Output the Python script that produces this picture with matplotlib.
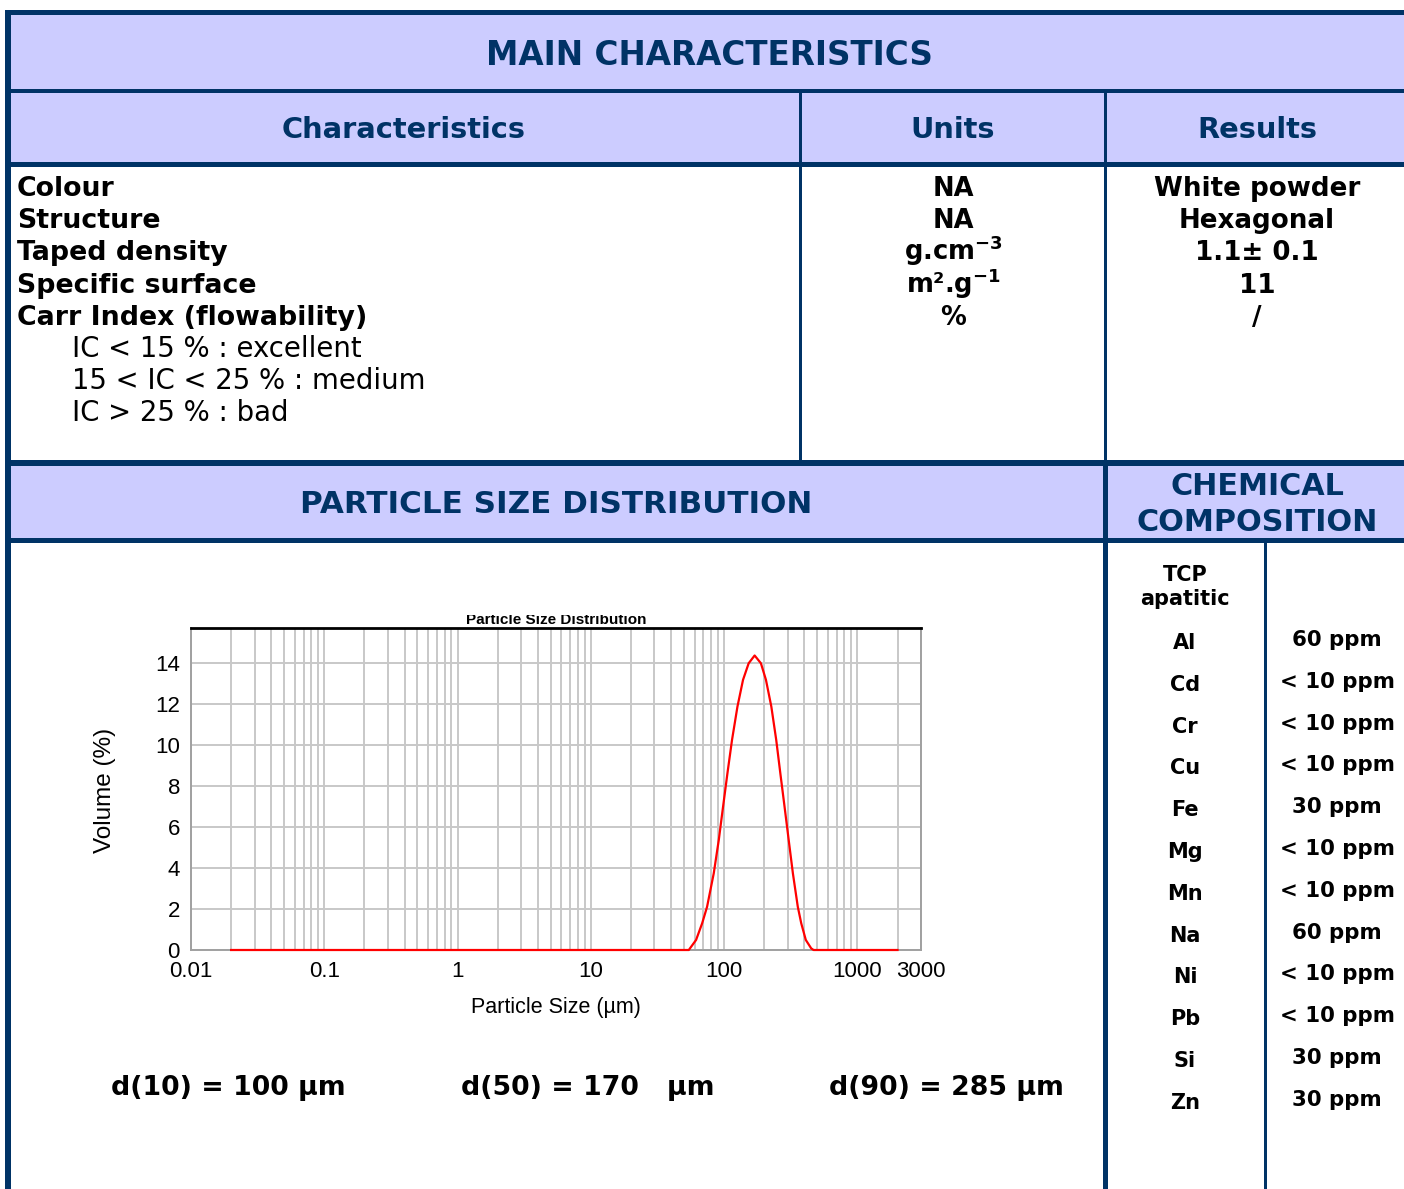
import matplotlib
matplotlib.use("Agg")
import matplotlib.pyplot as plt
from matplotlib.patches import Rectangle
from matplotlib.transforms import Bbox
import numpy as np

plt.rcParams['mathtext.fontset'] = 'dejavusans'
plt.rcParams['mathtext.default'] = 'bf'

# ---------------------------------------------------------------
# Data
# ---------------------------------------------------------------
char_names = ["Colour", "Structure", "Taped density", "Specific surface",
              "Carr Index (flowability)"]
char_units = ["NA", "NA", "g.cm$^{-3}$", "m\u00b2.g$^{-1}$", "%"]
char_results = ["White powder", "Hexagonal", "1.1\u00b1 0.1", "11", "/"]
carr_notes = ["IC < 15 % : excellent", "15 < IC < 25 % : medium",
              "IC > 25 % : bad"]

# particle size distribution
size_um = [0.02, 50, 54.3, 61.6, 68.4, 74.5, 83.6, 91.2, 98.2, 105.9, 114.6,
           125.9, 138.6, 152.8, 169.4, 188.8, 206, 226, 246, 264, 284, 305,
           328, 357, 379, 410, 450, 469, 2000]
volume_pct = [0, 0, 0.0, 0.49, 1.30, 2.11, 3.74, 5.37, 6.99, 8.62, 10.24,
              11.87, 13.17, 13.98, 14.36, 13.98, 13.17, 11.87, 10.24, 8.62,
              6.99, 5.37, 3.74, 2.11, 1.30, 0.49, 0.08, 0.0, 0]
x_ticks = [0.01, 0.1, 1, 10, 100, 1000, 3000]
x_ticklabels = ["0.01", "0.1", "1", "10", "100", "1000", "3000"]
y_ticks = [0, 2, 4, 6, 8, 10, 12, 14]

d_labels = ["d(10) = 100 \u00b5m", "d(50) = 170   \u00b5m", "d(90) = 285 \u00b5m"]

elements = ["Al", "Cd", "Cr", "Cu", "Fe", "Mg", "Mn", "Na", "Ni", "Pb", "Si", "Zn"]
contents = ["60 ppm", "< 10 ppm", "< 10 ppm", "< 10 ppm", "30 ppm", "< 10 ppm",
            "< 10 ppm", "60 ppm", "< 10 ppm", "< 10 ppm", "30 ppm", "30 ppm"]

# ---------------------------------------------------------------
# Layout
# ---------------------------------------------------------------
W, H = 1404, 1189
NAVY = "#003366"
LILAC = "#CCCCFF"
FONT = "DejaVu Sans"
CHART_FONT = ["Liberation Sans Narrow", "Liberation Sans", "DejaVu Sans"]

fig = plt.figure(figsize=(W / 100, H / 100), dpi=100)
fig.patch.set_facecolor("white")
bg = fig.add_axes([0, 0, 1, 1])
bg.set_xlim(0, W)
bg.set_ylim(H, 0)
bg.axis("off")


def rect(x0, y0, x1, y1, color):
    bg.add_patch(Rectangle((x0, y0), x1 - x0, y1 - y0, facecolor=color,
                           edgecolor="none", lw=0))


def txt(x, y, s, size, ha="left", weight="bold", color="black", **kw):
    return bg.text(x, y, s, fontsize=size, ha=ha, va="baseline",
                   fontweight=weight, color=color, family=FONT, **kw)


# header fills
rect(10, 15, W, 90, LILAC)
rect(10, 93, W, 162, LILAC)
rect(10, 466, W, 538, LILAC)

# frame lines
rect(5, 10, W, 15, NAVY)
rect(10, 89, W, 93, NAVY)
rect(10, 162, W, 167, NAVY)
rect(10, 460, W, 466, NAVY)
rect(10, 538, W, 543, NAVY)
rect(5, 10, 11, H, NAVY)
rect(799, 93, 802, 463, NAVY)
rect(1104, 93, 1107, 460, NAVY)
rect(1103, 460, 1108, H, NAVY)
rect(1264, 543, 1267, H, NAVY)

# header texts
txt(709, 65, "MAIN CHARACTERISTICS", 23.5, ha="center", color=NAVY)
txt(404, 138, "Characteristics", 20.8, ha="center", color=NAVY)
txt(953, 138, "Units", 20.8, ha="center", color=NAVY)
txt(1257, 138, "Results", 20.8, ha="center", color=NAVY)
txt(556, 513, "PARTICLE SIZE DISTRIBUTION", 22.3, ha="center", color=NAVY)
txt(1257, 495, "CHEMICAL", 21.8, ha="center", color=NAVY)
txt(1257, 531, "COMPOSITION", 21.8, ha="center", color=NAVY)

# characteristics rows
row_y0, row_dy = 196, 32.2
for i, (n, u, r) in enumerate(zip(char_names, char_units, char_results)):
    y = row_y0 + i * row_dy
    txt(17, y, n, 19.3)
    txt(953, y, u, 18.5, ha="center")
    txt(1257, y, r, 18.8, ha="center")
for j, note in enumerate(carr_notes):
    y = row_y0 + (len(char_names) + j) * row_dy
    txt(72, y, note, 19.8, weight="normal")

# chemical composition
txt(1185, 581, "TCP", 15, ha="center")
txt(1185, 605, "apatitic", 15, ha="center")
chem_y0, chem_dy = 649, 41.8
for i, (el, val) in enumerate(zip(elements, contents)):
    y = chem_y0 + i * chem_dy
    txt(1185, y, el, 15, ha="center")
    txt(1337, y - 3, val, 15.3, ha="center")

# d values
for x, lab in zip([111, 461, 829], d_labels):
    txt(x, 1095, lab, 19.3)

# ---------------------------------------------------------------
# Particle size chart
# ---------------------------------------------------------------
ax_l, ax_r, ax_t, ax_b = 191, 921, 628, 950
ax = fig.add_axes([ax_l / W, 1 - ax_b / H, (ax_r - ax_l) / W, (ax_b - ax_t) / H])
ax.set_xscale("log")
ax.set_xlim(0.01, 3000)
ax.set_ylim(0, 15.7)
ax.plot(size_um, volume_pct, color="#FF0000", lw=1.6, zorder=5, clip_on=False,
        solid_joinstyle="round")

ax.set_xticks(x_ticks)
ax.set_xticklabels(x_ticklabels)
ax.set_yticks(y_ticks)
ax.grid(True, which="both", color="#C8C8C8", lw=1.4)
ax.tick_params(which="both", length=0)
ax.tick_params(axis="x", pad=8, labelsize=16)
ax.tick_params(axis="y", pad=8, labelsize=16)
for lab in ax.get_xticklabels() + ax.get_yticklabels():
    lab.set_family(CHART_FONT)
for side in ["left", "right", "bottom"]:
    ax.spines[side].set_color("#A0A0A0")
    ax.spines[side].set_linewidth(1.4)
ax.spines["top"].set_color("black")
ax.spines["top"].set_linewidth(2)

bg.text(556, 1013, "Particle Size (\u00b5m)", fontsize=15.5, ha="center",
        va="baseline", family=CHART_FONT)
bg.text(105, 790, "Volume (%)", fontsize=17.5, ha="center", va="center",
        rotation=90, family=["Liberation Sans", "DejaVu Sans"])
t = bg.text(556, 624, "Particle Size Distribution", fontsize=11, ha="center",
            va="baseline", fontweight="bold", family=CHART_FONT)
t.set_clip_box(Bbox([[0, H - 628], [W, H - 615]]))
t.set_clip_on(True)

fig.savefig("out.png", dpi=100, facecolor="white")
